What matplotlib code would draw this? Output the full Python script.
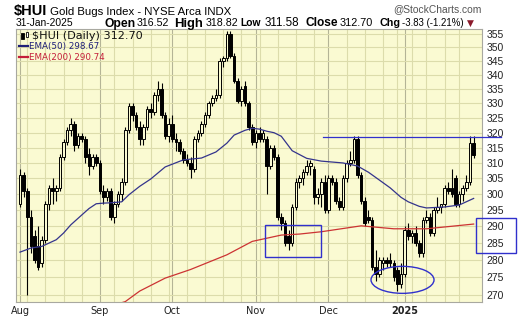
import matplotlib
matplotlib.use("Agg")
import numpy as np
import pandas as pd
import matplotlib.pyplot as plt
from matplotlib.patches import Rectangle, Ellipse
from matplotlib.transforms import ScaledTranslation
from matplotlib.ticker import FixedLocator, NullLocator, FixedFormatter

# ---- data ----
holidays = ["2024-09-02", "2024-11-28", "2024-12-25", "2025-01-01", "2025-01-09", "2025-01-20"]
dates = pd.bdate_range("2024-08-01", "2025-01-31")
dates = dates[~dates.isin(pd.to_datetime(holidays))]

opens = [297, 306, 301, 293, 287, 284, 279, 286, 297, 302, 301, 302, 312, 317, 321, 323, 316, 319, 318, 313, 309, 312,
         310, 301, 299, 301, 293, 297, 300, 304, 321, 329, 326, 322, 318, 322, 328, 327, 333, 335, 326, 319,
         323, 318, 317, 314, 311, 310, 308, 318, 320, 323, 326, 330, 332, 333, 345, 346, 355, 347, 338, 331, 336, 330, 322,
         317, 320, 318, 318, 309, 315, 312, 293, 291, 287, 285, 296, 304, 305, 307, 309, 308, 299, 300, 304,
         295, 305, 304, 298, 296, 305, 310, 311, 318, 306, 298, 293, 292, 278, 276, 279, 280, 280, 279, 277, 273,
         276, 289, 287, 288, 285, 282, 292, 293, 288, 295, 296, 297, 302, 302, 305, 297, 300, 302, 304, 316.52]
highs = [308, 307, 302, 295, 289, 290, 287, 298, 303, 305, 303, 313, 318, 322, 325, 324, 320, 320, 319, 315, 313, 313,
         311, 303, 302, 302, 298, 301, 305, 322, 330, 330, 327, 324, 323, 329, 330, 334, 338, 337, 327, 325,
         326, 320, 318, 315, 313, 312, 319, 321, 324, 327, 331, 333, 335, 346, 347, 356, 356, 348, 339, 336, 338, 331, 323,
         321, 322, 321, 319, 316, 316, 313, 294, 292, 289, 297, 305, 306, 308, 311, 311, 309, 302, 305, 306,
         306, 306, 305, 299, 306, 311, 314, 319, 319, 307, 299, 295, 293, 283, 281, 281, 281, 282, 280, 278, 279,
         290, 291, 289, 290, 286, 293, 295, 294, 296, 299, 297, 303, 304, 308, 306, 301, 303, 306, 319, 318.82]
lows = [296, 299, 270, 282, 279, 277, 278, 285, 295, 297, 298, 301, 311, 316, 319, 314, 315, 317, 310, 306, 308, 309,
        300, 297, 298, 292, 291, 296, 298, 303, 320, 324, 321, 316, 316, 321, 325, 326, 331, 325, 318, 317,
        317, 314, 313, 310, 309, 305, 307, 317, 319, 322, 325, 329, 331, 332, 343, 345, 346, 337, 330, 329, 329, 321, 316,
        315, 317, 317, 300, 308, 311, 292, 289, 284, 283, 284, 295, 302, 303, 306, 306, 297, 297, 296, 294,
        294, 303, 297, 295, 295, 304, 309, 310, 305, 297, 290, 291, 277, 274, 275, 277, 278, 278, 274, 271, 272,
        275, 286, 285, 284, 281, 281, 291, 287, 287, 294, 294, 296, 300, 299, 296, 296, 298, 301, 303, 311.58]
closes = [306, 301, 293, 284, 280, 278, 286, 297, 302, 301, 302, 312, 317, 321, 323, 316, 319, 318, 312, 309, 312, 310,
          301, 299, 301, 293, 297, 300, 304, 321, 329, 326, 322, 318, 322, 328, 327, 333, 335, 326, 319, 323,
          318, 317, 314, 311, 310, 308, 318, 320, 323, 326, 330, 332, 333, 345, 346, 355, 347, 338, 331, 335, 330, 322, 317,
          320, 318, 320, 309, 315, 312, 293, 291, 285, 285, 296, 304, 305, 307, 309, 310, 299, 300, 304, 295,
          305, 304, 298, 296, 305, 310, 311, 318, 306, 298, 291, 292, 278, 276, 280, 280, 279, 279, 275, 273, 276,
          289, 287, 288, 285, 282, 292, 293, 288, 295, 296, 297, 302, 301, 300, 297, 300, 302, 304, 316.53, 312.70]

ema50_idx = [0, 3, 6, 10, 12, 14, 17, 19, 21, 23, 25, 28, 30, 33, 36, 40, 45, 50, 54, 57, 59, 62, 64, 66, 68, 70, 72,
             75, 79, 83, 89, 93, 96, 99, 102, 105, 107, 110, 112, 117, 121, 125]
ema50_val = [282.3, 283.5, 284.0, 286.0, 288.0, 290.5, 293.5, 295.5, 297.0, 297.2, 297.3, 297.6, 299.8, 302.5, 304.8,
             308.7, 311.0, 311.6, 313.6, 316.5, 319.2, 320.8, 321.5, 321.2, 320.5, 320.0, 318.8, 314.0, 311.5, 310.6,
             310.0, 309.0, 307.0, 304.5, 302.0, 299.0, 297.6, 296.2, 295.7, 296.0, 296.6, 298.67]
ema200_idx = [25, 29, 33, 40, 47, 57, 64, 72, 77, 83, 94, 103, 112, 125]
ema200_val = [266.8, 268.0, 271.0, 274.7, 277.2, 281.5, 285.5, 287.4, 287.7, 288.4, 290.2, 289.3, 289.3, 290.74]

yticks = list(range(270, 356, 5))

W, H = 520, 318
BG = "#fafad2"
BLUE = "#3030cc"

fig = plt.figure(figsize=(W / 100, H / 100), dpi=100)
fig.patch.set_facecolor("white")
ax = fig.add_axes([16 / W, 1 - 302 / H, 466 / W, 273 / H])
ax.set_facecolor(BG)

o, h, l, c = map(np.array, (opens, highs, lows, closes))
x = np.arange(len(dates))

# grid: weekly light lines, month lines darker
month_start = [i for i in range(len(dates)) if i == 0 or dates[i].month != dates[i - 1].month]
week_start = [i for i in range(1, len(dates)) if dates[i].weekday() < dates[i - 1].weekday() or (dates[i] - dates[i - 1]).days > 3]
for i in week_start:
    if i not in month_start:
        ax.axvline(i, color="#dcdcab", lw=0.8, zorder=0)
for i in month_start:
    ax.axvline(i, color="#b4b496", lw=0.8, zorder=0)
for v in yticks:
    ax.axhline(v, color="#dcdcab", lw=0.8, zorder=0)

# candles
up = c >= o
lo_b = np.minimum(o, c)
hi_b = np.maximum(o, c)
ax.vlines(x, l, h, color="black", lw=0.8, zorder=2)
ax.bar(x[up], np.maximum(hi_b - lo_b, 0.3)[up], bottom=lo_b[up], width=0.72,
       facecolor=BG, edgecolor="black", lw=0.7, zorder=3)
ax.bar(x[~up], np.maximum(hi_b - lo_b, 0.3)[~up], bottom=lo_b[~up], width=0.72,
       facecolor="black", edgecolor="black", lw=0.7, zorder=3)

# moving averages
ax.plot(ema50_idx, ema50_val, color="#34348c", lw=0.9, zorder=4)
ax.plot(ema200_idx, ema200_val, color="#cc3333", lw=0.9, zorder=4)

# hand drawn annotations
ax.add_patch(Rectangle((67.5, 281.0), 15.4, 9.5, fill=False, edgecolor=BLUE, lw=1.0, zorder=5))
ax.add_patch(Rectangle((125.6, 282.0), 11.0, 10.7, fill=False, edgecolor=BLUE, lw=1.0, zorder=5, clip_on=False))
ax.plot([83.5, 132.4], [318.7, 318.7], color=BLUE, lw=0.9, zorder=5, clip_on=False)
ax.add_patch(Ellipse((0, 0), 0.63, 0.27, fill=False, edgecolor=BLUE, lw=1.0, zorder=5,
                     transform=fig.dpi_scale_trans + ScaledTranslation(105.4, 274.2, ax.transData)))

# axes
ax.set_yscale("log")
ax.set_ylim(267.9, 356.8)
ax.set_xlim(-1.1, 127.3)
ax.yaxis.tick_right()
ax.yaxis.set_major_locator(FixedLocator(yticks))
ax.yaxis.set_major_formatter(FixedFormatter([str(v) for v in yticks]))
ax.yaxis.set_minor_locator(NullLocator())
ax.tick_params(axis="y", length=0, pad=3, labelsize=7.5, labelcolor="#222222")
for t in ax.get_yticklabels():
    t.set_fontfamily("Liberation Sans")

month_lbl = [d.strftime("%b") if d.month != 1 else str(d.year) for d in dates[month_start]]
ax.xaxis.set_major_locator(FixedLocator(month_start))
ax.xaxis.set_major_formatter(FixedFormatter(month_lbl))
ax.xaxis.set_minor_locator(NullLocator())
ax.tick_params(axis="x", length=0, pad=3, labelsize=7, labelcolor="#222222")
for t in ax.get_xticklabels():
    if t.get_text().isdigit():
        t.set_fontweight("bold")
for s in ax.spines.values():
    s.set_color("#a8a8a0")
    s.set_linewidth(0.8)

# ---- header texts ----
rend = fig.canvas.get_renderer()


def put(px, py, s, w=None, **kw):
    t = fig.text(px / W, 1 - py / H, s, va="baseline", ha="left", **kw)
    if w:
        bw = t.get_window_extent(rend).width
        t.set_fontsize(t.get_fontsize() * w / bw)
    return t


HF = "Liberation Sans"
t1 = put(14, 15, "$HUI", fontsize=10.5, fontweight="bold", family=HF)
x_after = t1.get_window_extent(rend).x1 + 3
put(x_after, 15, "Gold Bugs Index - NYSE Arca INDX", fontsize=8.2, family=HF)
put(16, 26.5, dates[-1].strftime("%d-%b-%Y"), 58, fontsize=7.5, family=HF)
put(393, 12, "@StockCharts.com", 89, fontsize=7, family=HF, color="#555555")

chg = c[-1] - c[-2]
pct = chg / c[-2] * 100
pieces = [("Open", True, 104.3, 31), (f"{o[-1]:.2f}", False, 136.7, 32.6),
          ("High", True, 174, 29.3), (f"{h[-1]:.2f}", False, 205.7, 32.6),
          ("Low", True, 240.7, 20.5), (f"{l[-1]:.2f}", False, 265, 35),
          ("Close", True, 305, 32.3), (f"{c[-1]:.2f}", False, 340, 33.3),
          ("Chg", True, 379, 21), (f"{chg:.2f} ({pct:.2f}%)", False, 401.7, 62.3)]
for s, b, px, w in pieces:
    put(px, 26.5, s, w, fontsize=8, family=HF, fontweight="bold" if b else "normal")
put(466.5, 26, "\u25bc", 7, fontsize=6, family="DejaVu Sans", color="#8b1a2b")

# legend inside the plot
LF = "DejaVu Sans"
put(31.7, 39, f"$HUI (Daily) {c[-1]:.2f}", 111, fontsize=7.5, family=LF, color="#111111")
put(29.3, 49.3, f"EMA(50) {ema50_val[-1]:.2f}", 70, fontsize=7.5, family=LF, color="#1e1e78")
put(29.3, 60, f"EMA(200) {ema200_val[-1]:.2f}", 75.7, fontsize=7.5, family=LF, color="#c41e3a")
fig.add_artist(plt.Line2D([19.3 / W, 28.3 / W], [1 - 46 / H] * 2, color="#1e1e78", lw=1.6))
fig.add_artist(plt.Line2D([19.3 / W, 28.3 / W], [1 - 56.7 / H] * 2, color="#c41e3a", lw=1.6))
# tiny candle icon
for px, y0, y1, fill in [(21, 33, 38.5, "black"), (25.5, 32.5, 37, "white")]:
    fig.add_artist(Rectangle((px / W, 1 - y1 / H), 2.5 / W, (y1 - y0) / H, facecolor=fill,
                             edgecolor="black", lw=0.6))

fig.savefig("out.png", dpi=100, facecolor="white")
